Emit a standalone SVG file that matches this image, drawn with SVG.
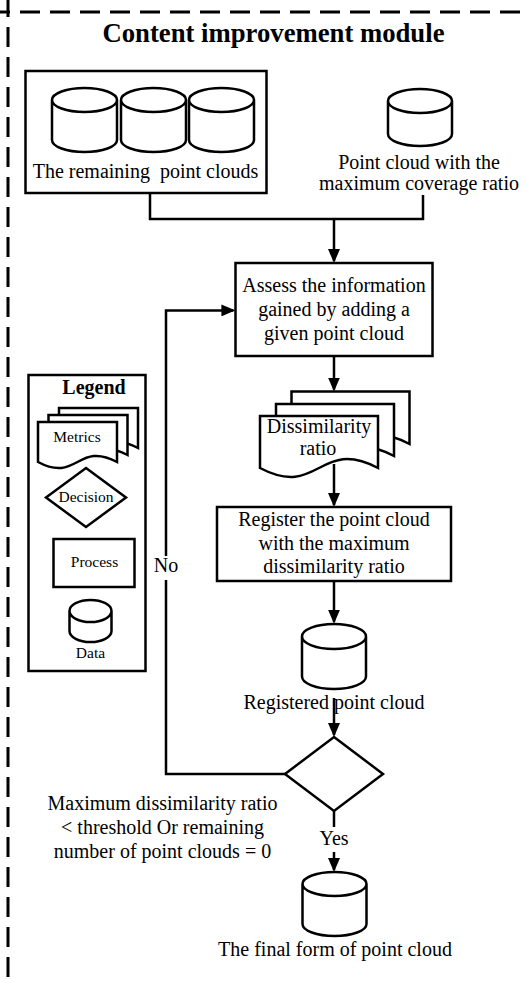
<svg xmlns="http://www.w3.org/2000/svg" width="531" height="985" viewBox="0 0 531 985">
<defs>
<marker id="arr" markerUnits="userSpaceOnUse" markerWidth="14" markerHeight="12" viewBox="0 0 14 12" refX="12" refY="6" orient="auto"><path d="M0,0 L14,6 L0,12 Z" fill="#000"/></marker>
</defs>
<style>
text{font-family:"Liberation Serif","Times New Roman",serif;fill:#000;text-anchor:middle}
.t20{font-size:20px}
.t15{font-size:15.5px}
.b{font-weight:bold}
.shape{fill:#fff;stroke:#000;stroke-width:2.5;stroke-linejoin:miter}
.conn{fill:none;stroke:#000;stroke-width:2.5}
.dash{fill:none;stroke:#000;stroke-width:3;stroke-dasharray:20 10}
</style>
<rect width="531" height="985" fill="#fff"/>
<g id="border">
<line class="dash" x1="520" y1="12" x2="0" y2="12"/>
<line class="dash" x1="8" y1="-3" x2="8" y2="985"/>
</g>
<g id="title"><text class="b" x="273.5" y="42" style="font-size:26.7px">Content improvement module</text></g>

<g id="connectors">
<path class="conn" d="M150,193 V219 H423 V195"/>
<path class="conn" d="M334,219 V261" marker-end="url(#arr)"/>
<path class="conn" d="M166,556 V310.4 H233.4" marker-end="url(#arr)"/>
<path class="conn" d="M334,356 V389.5" marker-end="url(#arr)"/>
<path class="conn" d="M334,464 V505" marker-end="url(#arr)"/>
<path class="conn" d="M334,581 V621.7" marker-end="url(#arr)"/>
<path class="conn" d="M334,698 V735" marker-end="url(#arr)"/>
<path class="conn" d="M285,774 H166 V580"/>
<path class="conn" d="M334,811 V827"/>
<path class="conn" d="M334,852 V870" marker-end="url(#arr)"/>
<text class="t20" x="166" y="572">No</text>
<text class="t20" x="334" y="845">Yes</text>
</g>

<g id="remaining">
<rect class="shape" x="25.5" y="71" width="241" height="122"/>
<path class="shape" d="M52,100 A32.5,12 0 0 1 117,100 V140 A32.5,12 0 0 1 52,140 Z M52,100 A32.5,12 0 0 0 117,100"/>
<path class="shape" d="M121,100 A32.5,12 0 0 1 186,100 V140 A32.5,12 0 0 1 121,140 Z M121,100 A32.5,12 0 0 0 186,100"/>
<path class="shape" d="M189,100 A32.5,12 0 0 1 254,100 V140 A32.5,12 0 0 1 189,140 Z M189,100 A32.5,12 0 0 0 254,100"/>
<text class="t20" x="145.5" y="178" style="white-space:pre">The remaining  point clouds</text>
</g>

<g id="maxcoverage">
<path class="shape" d="M388,101 A32,12 0 0 1 452,101 V134 A32,12 0 0 1 388,134 Z M388,101 A32,12 0 0 0 452,101"/>
<text class="t20" x="419" y="169">Point cloud with the</text>
<text class="t20" x="419" y="190">maximum coverage ratio</text>
</g>

<g id="assess">
<rect class="shape" x="235.5" y="263" width="197" height="93"/>
<text class="t20" x="334" y="291.5">Assess the information</text>
<text class="t20" x="334" y="315.5">gained by adding a</text>
<text class="t20" x="334" y="339.5">given point cloud</text>
</g>

<g id="dissimilarity">
<path class="shape" d="M291.5,391.5 H409.5 V444 C350.5,413 350.5,475 291.5,444 Z"/>
<path class="shape" d="M276,404 H394 V456 C335,425 335,487 276,456 Z"/>
<path class="shape" d="M260,416 H378 V468 C319,437 319,499 260,468 Z"/>
<text class="t20" x="319" y="433">Dissimilarity</text>
<text class="t20" x="318" y="455">ratio</text>
</g>

<g id="register">
<rect class="shape" x="217" y="507" width="234" height="74"/>
<text class="t20" x="334" y="526">Register the point cloud</text>
<text class="t20" x="334" y="549.5">with the maximum</text>
<text class="t20" x="334" y="573">dissimilarity ratio</text>
</g>

<g id="registered">
<path class="shape" d="M302,636.5 A32,12.5 0 0 1 366,636.5 V676.5 A32,12.5 0 0 1 302,676.5 Z M302,636.5 A32,12.5 0 0 0 366,636.5"/>
<text class="t20" x="334" y="709">Registered point cloud</text>
</g>

<g id="decision">
<path class="shape" d="M334,737 L383,774 L334,811 L285,774 Z"/>
<text class="t20" x="162.5" y="810">Maximum dissimilarity ratio</text>
<text class="t20" x="162.5" y="834">&lt; threshold Or remaining</text>
<text class="t20" x="162.5" y="858">number of point clouds = 0</text>
</g>

<g id="final">
<path class="shape" d="M302.5,884 A32,12 0 0 1 366.5,884 V924 A32,12 0 0 1 302.5,924 Z M302.5,884 A32,12 0 0 0 366.5,884"/>
<text class="t20" x="335" y="956">The final form of point cloud</text>
</g>

<g id="legend">
<rect class="shape" x="28.5" y="375" width="117" height="296"/>
<text class="t20 b" x="94" y="394">Legend</text>
<path class="shape" d="M59,408 H138 V448 C98.5,427 98.5,469 59,448 Z"/>
<path class="shape" d="M48.5,415 H127.5 V455 C88,434 88,476 48.5,455 Z"/>
<path class="shape" d="M38,422 H117 V462 C77.5,441 77.5,483 38,462 Z"/>
<text class="t15" x="77" y="442">Metrics</text>
<path class="shape" d="M86,468 L126,497.5 L86,527 L46,497.5 Z"/>
<text class="t15" x="86" y="502">Decision</text>
<rect class="shape" x="53.5" y="539" width="81" height="48"/>
<text class="t15" x="94.5" y="567">Process</text>
<path class="shape" d="M69.5,611 A21,11 0 0 1 111.5,611 V631 A21,11 0 0 1 69.5,631 Z M69.5,611 A21,11 0 0 0 111.5,611"/>
<text class="t15" x="90.5" y="658">Data</text>
</g>
</svg>
